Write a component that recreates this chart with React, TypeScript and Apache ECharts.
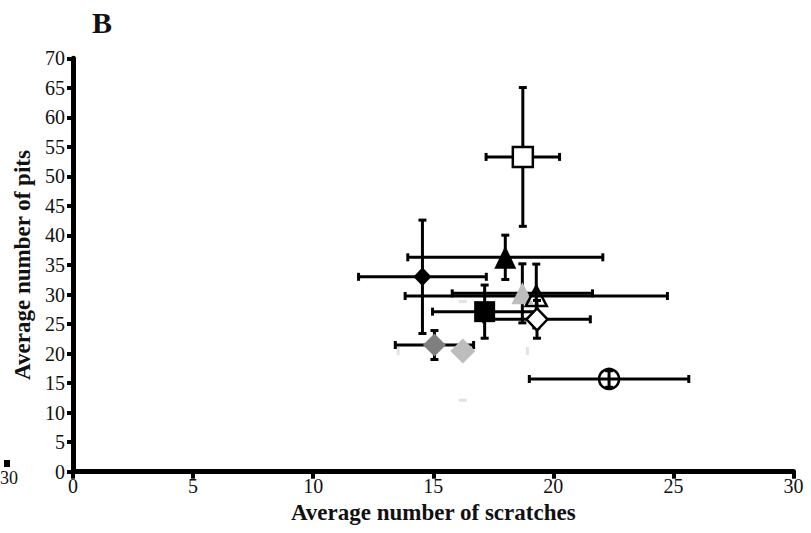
import React, { useEffect, useRef } from "react";
import * as echarts from "echarts";

// ---- data ----
const groups = [
  "openSquare",
  "blackTriangle",
  "blackDiamond",
  "greyTriangle",
  "openTriangle",
  "blackSquare",
  "openDiamond",
  "darkGreyDiamond",
  "lightGreyDiamond",
  "openCircle",
];
const scratchesMean = [18.73, 18.0, 14.55, 18.71, 19.29, 17.14, 19.32, 15.05, 16.23, 22.32];
const scratchesErr = [1.53, 4.06, 2.66, 2.92, 5.46, 2.17, 2.22, 1.63, 2.69, 3.32];
const pitsMean = [53.3, 36.3, 33.0, 30.2, 29.75, 27.1, 25.8, 21.45, 20.45, 15.7];
const pitsErr = [11.75, 3.75, 9.6, 5.0, 5.4, 4.5, 3.2, 2.45, 8.35, 1.4];

const xTicks = { min: 0, max: 30, interval: 5 };
const yTicks = { min: 0, max: 70, interval: 5 };

// ---- styles (per group, not data) ----
type Sty = {
  symbol: string;
  size: number | number[];
  fill: string;
  stroke: string;
  strokeWidth: number;
  bar: string;
  cap: string;
};
const styles: Record<string, Sty> = {
  openSquare: { symbol: "rect", size: 20, fill: "#ffffff", stroke: "#000", strokeWidth: 2.5, bar: "#000", cap: "#000" },
  blackTriangle: { symbol: "triangle", size: [22, 23], fill: "#000", stroke: "#000", strokeWidth: 0, bar: "#000", cap: "#000" },
  blackDiamond: { symbol: "diamond", size: [18, 19], fill: "#000", stroke: "#000", strokeWidth: 0, bar: "#000", cap: "#000" },
  greyTriangle: { symbol: "triangle", size: [22, 22], fill: "#bdbdbd", stroke: "#bdbdbd", strokeWidth: 0, bar: "#000", cap: "#000" },
  openTriangle: { symbol: "triangle", size: [21, 20], fill: "transparent", stroke: "#000", strokeWidth: 2.5, bar: "#000", cap: "#000" },
  blackSquare: { symbol: "rect", size: 21, fill: "#000", stroke: "#000", strokeWidth: 0, bar: "#000", cap: "#000" },
  openDiamond: { symbol: "diamond", size: [21, 22], fill: "#ffffff", stroke: "#000", strokeWidth: 2.5, bar: "#000", cap: "#000" },
  darkGreyDiamond: { symbol: "diamond", size: 23, fill: "#7f7f7f", stroke: "#7f7f7f", strokeWidth: 0, bar: "#000", cap: "#000" },
  lightGreyDiamond: { symbol: "diamond", size: 25, fill: "#bdbdbd", stroke: "#bdbdbd", strokeWidth: 0, bar: "rgba(0,0,0,0)", cap: "#e2e2e2" },
  openCircle: { symbol: "circle", size: 20, fill: "transparent", stroke: "#000", strokeWidth: 2.5, bar: "#000", cap: "#000" },
};

const serif = "'Liberation Serif', 'Times New Roman', serif";

export default function App() {
  const ref = useRef<HTMLDivElement>(null);

  useEffect(() => {
    if (!ref.current) return;
    const chart = echarts.init(ref.current, undefined, { renderer: "svg" });

    // draw light grey bars first so others lie on top
    const barOrder = [8, 0, 1, 2, 3, 4, 5, 6, 7, 9];
    const barSeries = barOrder.map((i) => {
      const st = styles[groups[i]];
      return {
        type: "custom",
        name: groups[i] + "-err",
        z: 1,
        silent: true,
        encode: { x: 0, y: 1 },
        data: [[scratchesMean[i], pitsMean[i], scratchesErr[i], pitsErr[i]]],
        renderItem: (_params: any, api: any) => {
          const x = api.value(0);
          const y = api.value(1);
          const ex = api.value(2);
          const ey = api.value(3);
          const l = api.coord([x - ex, y]);
          const r = api.coord([x + ex, y]);
          const t = api.coord([x, y + ey]);
          const b = api.coord([x, y - ey]);
          const c = 4;
          const ls = { stroke: st.bar, lineWidth: 3, fill: null };
          const cs = { stroke: st.cap, lineWidth: 3, fill: null };
          return {
            type: "group",
            children: [
              { type: "line", shape: { x1: l[0], y1: l[1], x2: r[0], y2: r[1] }, style: ls },
              { type: "line", shape: { x1: t[0], y1: t[1], x2: b[0], y2: b[1] }, style: ls },
              { type: "line", shape: { x1: l[0], y1: l[1] - c, x2: l[0], y2: l[1] + c }, style: cs },
              { type: "line", shape: { x1: r[0], y1: r[1] - c, x2: r[0], y2: r[1] + c }, style: cs },
              { type: "line", shape: { x1: t[0] - c, y1: t[1], x2: t[0] + c, y2: t[1] }, style: cs },
              { type: "line", shape: { x1: b[0] - c, y1: b[1], x2: b[0] + c, y2: b[1] }, style: cs },
            ],
          };
        },
      };
    });

    const pointSeries = groups.map((g, i) => {
      const st = styles[g];
      return {
        type: "scatter",
        name: g,
        z: 2,
        symbol: st.symbol,
        symbolSize: st.size,
        itemStyle: {
          color: st.fill,
          borderColor: st.stroke,
          borderWidth: st.strokeWidth,
          opacity: 1,
        },
        emphasis: { disabled: true },
        data: [[scratchesMean[i], pitsMean[i]]],
      };
    });

    chart.setOption({
      animation: false,
      backgroundColor: "#ffffff",
      grid: { left: 73, right: 17.5, top: 58.3, bottom: 61.3, containLabel: false },
      xAxis: {
        type: "value",
        min: xTicks.min,
        max: xTicks.max,
        interval: xTicks.interval,
        splitLine: { show: false },
        axisLine: { show: true, onZero: false, lineStyle: { color: "#000", width: 5 } },
        axisTick: { show: true, length: 7, lineStyle: { color: "#000", width: 4 } },
        axisLabel: { fontFamily: serif, fontSize: 20, color: "#111", margin: 4 },
        name: "Average number of scratches",
        nameLocation: "middle",
        nameGap: 26,
        nameTextStyle: { fontFamily: serif, fontWeight: "bold", fontSize: 23, color: "#111" },
      },
      yAxis: {
        type: "value",
        min: yTicks.min,
        max: yTicks.max,
        interval: yTicks.interval,
        splitLine: { show: false },
        axisLine: { show: true, onZero: false, lineStyle: { color: "#000", width: 5 } },
        axisTick: { show: true, length: 6, lineStyle: { color: "#000", width: 4 } },
        axisLabel: { fontFamily: serif, fontSize: 20, color: "#111", margin: 8 },
        name: "Average number of pits",
        nameLocation: "middle",
        nameGap: 34,
        nameTextStyle: { fontFamily: serif, fontWeight: "bold", fontSize: 23, color: "#111" },
      },
      graphic: [
        {
          type: "text",
          left: 92,
          top: 7,
          style: { text: "B", fontFamily: serif, fontWeight: "bold", fontSize: 30, fill: "#111" },
        },
        {
          type: "text",
          left: 0,
          top: 469,
          style: { text: "30", fontFamily: serif, fontSize: 18, fill: "#111" },
        },
        {
          type: "rect",
          shape: { x: 4, y: 460, width: 6, height: 7 },
          style: { fill: "#000" },
        },
      ],
      series: [...barSeries, ...pointSeries],
    });

    return () => chart.dispose();
  }, []);

  return <div ref={ref} style={{ width: 811, height: 533, position: "absolute", left: 0, top: 0 }} />;
}
